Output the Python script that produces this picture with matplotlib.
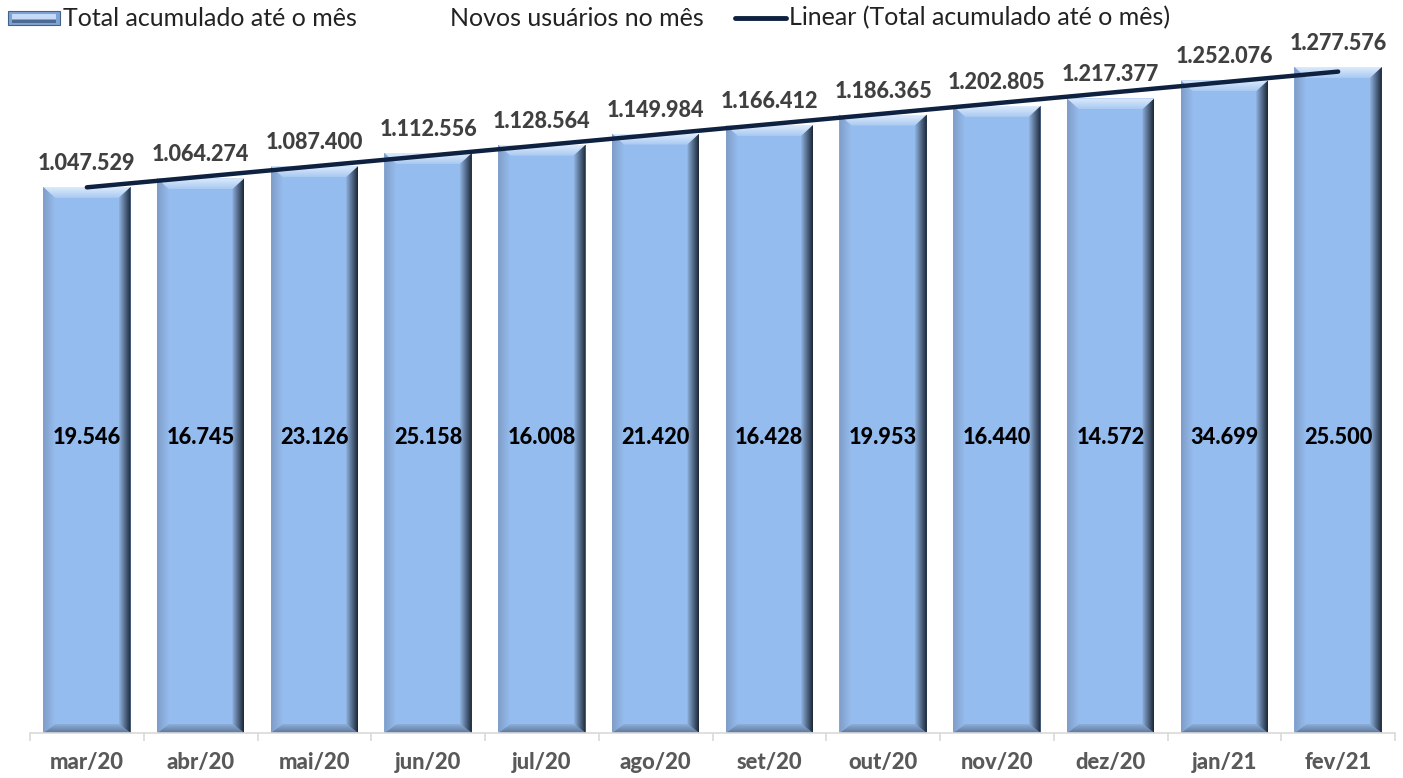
import numpy as np
import matplotlib
matplotlib.use("Agg")
import matplotlib.pyplot as plt
from matplotlib.patches import Polygon, Rectangle
from matplotlib.lines import Line2D

plt.rcParams['font.family'] = ['Lato', 'DejaVu Sans']

months = ["mar/20", "abr/20", "mai/20", "jun/20", "jul/20", "ago/20",
          "set/20", "out/20", "nov/20", "dez/20", "jan/21", "fev/21"]
total = [1047529, 1064274, 1087400, 1112556, 1128564, 1149984,
         1166412, 1186365, 1202805, 1217377, 1252076, 1277576]
novos = [19546, 16745, 23126, 25158, 16008, 21420,
         16428, 19953, 16440, 14572, 34699, 25500]

FACE = "#95BCEE"


def fmt(v):
    return f"{v:,}".replace(",", ".")


def gradient_fill(ax, poly_xy, c0, c1, direction, extent):
    # fill a polygon with a linear gradient (clipped image)
    n = 64
    cmap = matplotlib.colors.LinearSegmentedColormap.from_list("g", [c0, c1])
    g = np.linspace(0, 1, n)
    if direction == "h":
        img = g[np.newaxis, :]
    else:
        img = g[:, np.newaxis]
    im = ax.imshow(img, cmap=cmap, extent=extent, origin="lower",
                   aspect="auto", interpolation="bilinear", zorder=2)
    patch = Polygon(poly_xy, closed=True, facecolor="none", edgecolor="none")
    ax.add_patch(patch)
    im.set_clip_path(patch)


def bevel_bar(ax, x, h, w, bw, bh_top, bh_bot):
    x0, x1 = x - w / 2, x + w / 2
    ax.add_patch(Rectangle((x0, 0), w, h, facecolor=FACE, edgecolor="none", zorder=1))
    # top
    top = [(x0, h), (x1, h), (x1 - bw, h - bh_top), (x0 + bw, h - bh_top)]
    gradient_fill(ax, top, "#A9C9F2", "#DDEBFC", "v", (x0, x1, h - bh_top, h))
    # bottom
    bot = [(x0, 0), (x1, 0), (x1 - bw, bh_bot), (x0 + bw, bh_bot)]
    gradient_fill(ax, bot, "#5D7698", "#8DAEDA", "v", (x0, x1, 0, bh_bot))
    # left
    left = [(x0, 0), (x0 + bw, bh_bot), (x0 + bw, h - bh_top), (x0, h)]
    gradient_fill(ax, left, "#7F9CC6", "#95BCEE", "h", (x0, x0 + bw, 0, h))
    # right
    right = [(x1, 0), (x1 - bw, bh_bot), (x1 - bw, h - bh_top), (x1, h)]
    gradient_fill(ax, right, "#8FB2E0", "#1B2636", "h", (x1 - bw, x1, 0, h))


fig = plt.figure(figsize=(14.03, 7.78), dpi=100)
ax = fig.add_axes([30 / 1403, 45 / 778, 1365 / 1403, 693 / 778])

x = np.arange(len(months))
ymax = 693 / 666 * 1277576
ax.set_xlim(-0.5, len(months) - 0.5)
ax.set_ylim(0, ymax)

px_x = 1365 / len(months)
px_y = 666 / 1277576
for xi, v in zip(x, total):
    bevel_bar(ax, xi, v, 0.77, 12 / px_x, 11 / px_y, 9 / px_y)
    ax.text(xi, v + 13 / px_y, fmt(v), ha="center", va="bottom",
            fontsize=15.6, fontweight=900, color="#404040", zorder=5)

for xi, n in zip(x, novos):
    ax.text(xi, 296 / px_y, fmt(n), ha="center", va="center",
            fontsize=15.7, fontweight=900, color="black", zorder=5)

# linear trend of the accumulated total
coef = np.polyfit(x, total, 1)
ax.plot(x, np.polyval(coef, x), color="#0E2140", lw=3.2,
        solid_capstyle="round", zorder=4)

for s in ["top", "right", "left"]:
    ax.spines[s].set_visible(False)
ax.spines["bottom"].set_color("#D9D9D9")
ax.spines["bottom"].set_linewidth(1.2)
ax.set_yticks([])
ax.set_xticks(np.arange(len(months) + 1) - 0.5, minor=True)
ax.tick_params(axis="x", which="minor", length=6, color="#D9D9D9", width=1.2)
ax.set_xticks(x)
ax.set_xticklabels(months, fontsize=15.8, fontweight=900, color="#595959")
ax.tick_params(axis="x", which="major", length=0, pad=14)

# legend drawn in figure pixels
lax = fig.add_axes([0, 0, 1, 1], facecolor="none")
lax.set_xlim(0, 1403)
lax.set_ylim(778, 0)
lax.axis("off")
lax.add_patch(Rectangle((8, 11), 52, 14, facecolor="#7FA3D4", edgecolor="#44618A", lw=0.8))
lax.add_patch(Rectangle((12, 14), 44, 5, facecolor="#C4DAF6", edgecolor="none"))
lax.add_patch(Rectangle((12, 20), 44, 3, facecolor="#4E6A90", edgecolor="none"))
lax.text(63, 18, "Total acumulado até o mês", fontsize=18, color="#222222",
         va="center", ha="left")
lax.text(450, 18, "Novos usuários no mês", fontsize=18, color="#222222",
         va="center", ha="left")
lax.add_line(Line2D([735, 786], [18, 18], color="#0E2140", lw=3.5,
                    solid_capstyle="round"))
lax.text(789, 18, "Linear (Total acumulado até o mês)", fontsize=18,
         color="#222222", va="center", ha="left")

fig.savefig("out.png", dpi=100)
